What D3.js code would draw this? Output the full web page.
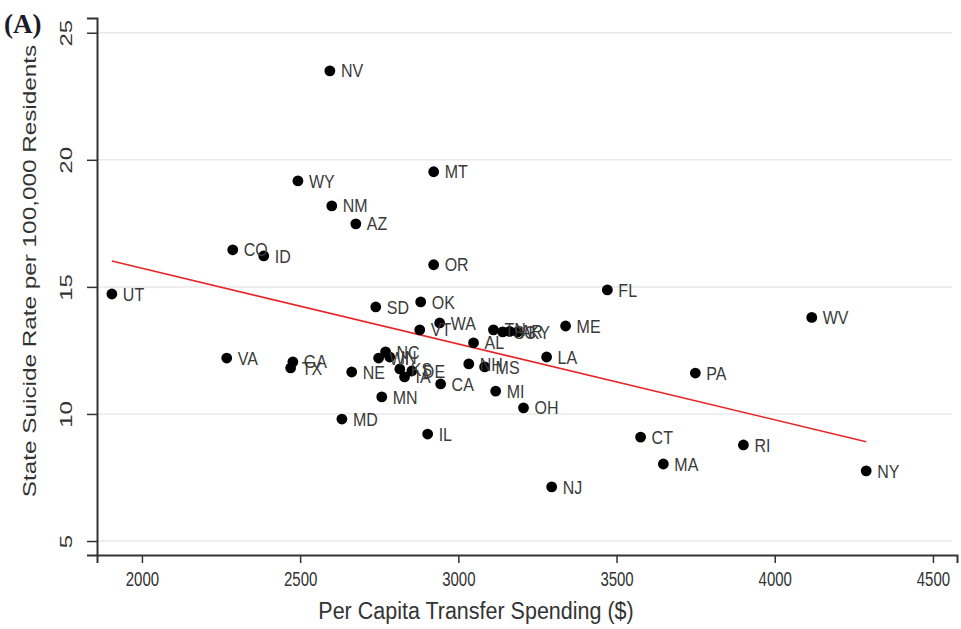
<!DOCTYPE html>
<html>
<head>
<meta charset="utf-8">
<script src="https://cdn.jsdelivr.net/npm/d3@7"></script>
<style>
  body { margin: 0; background: #fff; }
  svg { display: block; font-family: "Liberation Sans", Arial, sans-serif; }
</style>
</head>
<body>
<svg id="chart" width="961" height="629"></svg>
<script>
// state abbreviations, per capita transfer spending ($), suicide rate per 100,000
const states = ['NV','MT','WY','NM','AZ','CO','ID','OR','UT','FL','WV','SD','OK','WA','VT','ME',
  'TN','SC','AR','KY','AL','LA','VA','GA','TX','NE','NC','WI','IN','KS','IA','DE','MN','NH','MS',
  'CA','MI','OH','MD','IL','CT','RI','MA','NY','NJ','PA'];
const spending = [2594,2922,2493,2600,2676,2287,2385,2922,1905,3471,4117,2739,2881,2941,2878,3339,
  3111,3140,3162,3187,3048,3279,2268,2477,2470,2663,2770,2748,2783,2815,2830,2853,2758,3033,3083,
  2944,3118,3206,2632,2903,3576,3901,3648,4289,3295,3749];
const suicideRate = [23.5,19.53,19.17,18.19,17.48,16.46,16.22,15.87,14.72,14.88,13.8,14.21,14.41,13.58,13.31,13.46,
  13.31,13.23,13.25,13.23,12.8,12.24,12.2,12.05,11.81,11.65,12.44,12.2,12.24,11.77,11.46,11.69,10.67,11.97,11.85,
  11.18,10.9,10.24,9.8,9.21,9.09,8.78,8.03,7.76,7.13,11.61];

// fitted line (intercept, slope)
const fitIntercept = 21.70;
const fitSlope = -0.002983;

const xTicks = [2000, 2500, 3000, 3500, 4000, 4500];
const yTicks = [5, 10, 15, 20, 25];

const data = states.map((s, i) => ({state: s, x: spending[i], y: suicideRate[i]}));

const svg = d3.select('#chart');

const m = {left: 97, right: 957, top: 18, bottom: 555};

const x = d3.scaleLinear().domain([1858, 4576]).range([m.left, m.right]);
const y = d3.scaleLinear().domain([4.45, 25.58]).range([m.bottom, m.top]);

// gridlines
svg.append('g')
    .selectAll('line')
    .data(yTicks)
    .enter()
    .append('line')
    .attr('x1', m.left)
    .attr('x2', m.right - 5)
    .attr('y1', d => y(d))
    .attr('y2', d => y(d))
    .attr('stroke', '#e8e8e8')
    .attr('stroke-width', 1.5);

// fit line
const xExt = d3.extent(spending);
svg.append('line')
    .attr('x1', x(xExt[0]))
    .attr('y1', y(fitIntercept + fitSlope * xExt[0]))
    .attr('x2', x(xExt[1]))
    .attr('y2', y(fitIntercept + fitSlope * xExt[1]))
    .attr('stroke', '#e8262a')
    .attr('stroke-width', 1.6);

// points
const g = svg.append('g');
g.selectAll('circle')
    .data(data)
    .enter()
    .append('circle')
    .attr('cx', d => x(d.x))
    .attr('cy', d => y(d.y))
    .attr('r', 5.4)
    .attr('fill', '#000');

// labels look tall and narrow in the original, so stretch them a bit
g.selectAll('text')
    .data(data)
    .enter()
    .append('text')
    .attr('transform', d => `translate(${x(d.x) + 11}, ${y(d.y)}) scale(1, 1.15)`)
    .attr('dy', '0.36em')
    .attr('font-size', 16)
    .attr('fill', '#3a3a3a')
    .text(d => d.state);

// axes
const xAxis = svg.append('g')
    .attr('transform', `translate(0, ${m.bottom})`)
    .call(d3.axisBottom(x).tickValues(xTicks).tickSize(8).tickFormat(d3.format('d')));
xAxis.select('.domain').attr('stroke', '#333').attr('stroke-width', 2);
xAxis.selectAll('.tick line').attr('stroke', '#333').attr('stroke-width', 1.5);
xAxis.selectAll('text')
    .attr('y', null)
    .attr('dy', null)
    .attr('transform', 'translate(0, 31) scale(1, 1.35)')
    .attr('font-size', 15)
    .attr('fill', '#333')
    .style('font-family', '"Liberation Sans", Arial, sans-serif');

const yAxis = svg.append('g')
    .attr('transform', `translate(${m.left}, 0)`)
    .call(d3.axisLeft(y).tickValues(yTicks).tickSize(10).tickFormat(d3.format('d')));
yAxis.select('.domain').attr('stroke', '#333').attr('stroke-width', 2);
yAxis.selectAll('.tick line').attr('stroke', '#333').attr('stroke-width', 1.5);
yAxis.selectAll('text')
    .attr('x', null)
    .attr('dy', null)
    .attr('text-anchor', 'middle')
    .attr('transform', 'translate(-25, 0) rotate(-90) scale(1, 0.68)')
    .attr('font-size', 24)
    .attr('fill', '#333')
    .style('font-family', '"Liberation Sans", Arial, sans-serif');

// titles
svg.append('text')
    .attr('transform', 'translate(476, 619) scale(1, 1.15)')
    .attr('text-anchor', 'middle')
    .attr('font-size', 21.5)
    .attr('fill', '#333')
    .text('Per Capita Transfer Spending ($)');

svg.append('text')
    .attr('transform', 'translate(36, 271) rotate(-90) scale(1, 0.75)')
    .attr('text-anchor', 'middle')
    .attr('font-size', 24.3)
    .attr('fill', '#333')
    .text('State Suicide Rate per 100,000 Residents');

svg.append('text')
    .attr('x', 4)
    .attr('y', 33)
    .attr('font-family', '"Liberation Serif", "Times New Roman", serif')
    .attr('font-weight', 'bold')
    .attr('font-size', 27)
    .attr('fill', '#1a1a2a')
    .text('(A)');
</script>
</body>
</html>
